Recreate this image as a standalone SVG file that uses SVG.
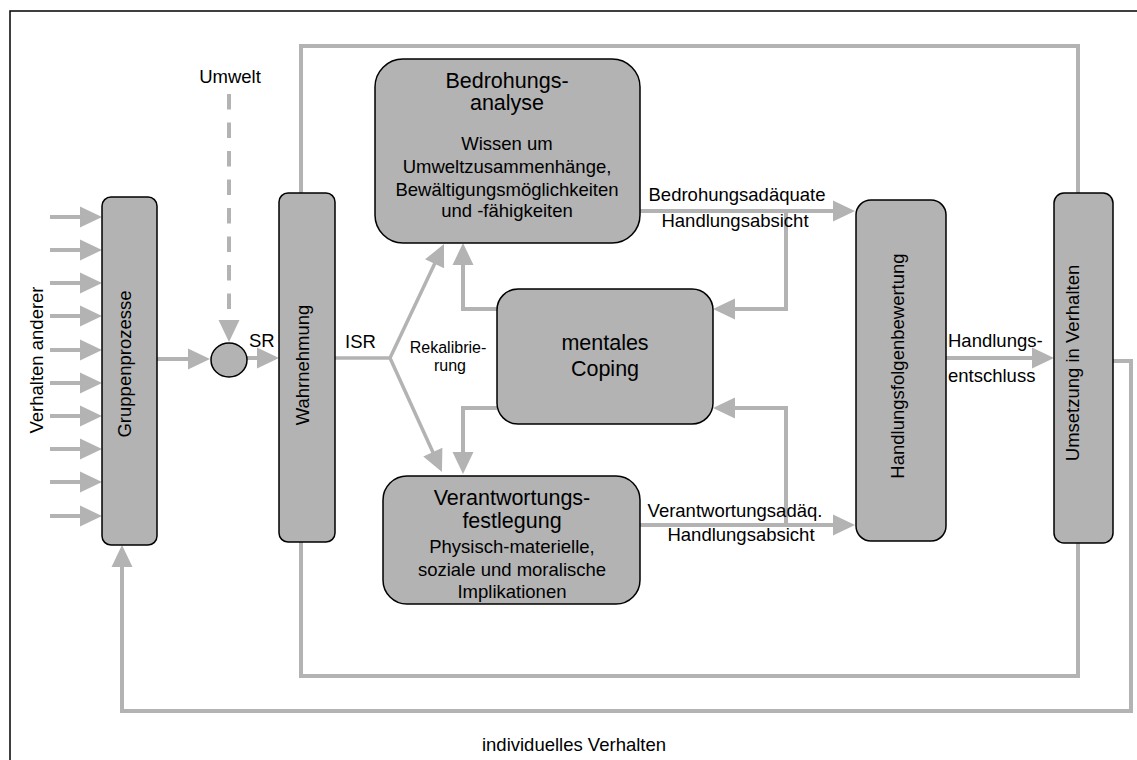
<svg xmlns="http://www.w3.org/2000/svg" width="1137" height="760" viewBox="0 0 1137 760">
<style>
  .box { fill: #b3b3b3; stroke: #000; stroke-width: 1.5; }
  .ln { fill: none; stroke: #b3b3b3; stroke-width: 4; }
  .ln3 { fill: none; stroke: #b3b3b3; stroke-width: 3.5; }
  .arr { marker-end: url(#ah); }
  .t { font-family: "Liberation Sans", Arial, sans-serif; font-size: 18.5px; fill: #000; }
  .c { text-anchor: middle; }
  .big { font-size: 21.5px; }
  .sm { font-size: 16px; }
</style>
<defs>
  <marker id="ah" markerUnits="userSpaceOnUse" markerWidth="22" markerHeight="21" refX="12" refY="10.5" orient="auto" overflow="visible">
    <path d="M0,0 L22,10.5 L0,21 Z" fill="#b3b3b3"/>
  </marker>
</defs>
<rect x="0" y="0" width="1137" height="760" fill="#fff"/>
<rect x="10" y="11" width="1150" height="780" fill="none" stroke="#000" stroke-width="1.5"/>

<g id="connectors">
  <!-- input arrows -->
  <line class="ln arr" x1="50" y1="217" x2="92" y2="217"/>
  <line class="ln arr" x1="50" y1="250" x2="92" y2="250"/>
  <line class="ln arr" x1="50" y1="283" x2="92" y2="283"/>
  <line class="ln arr" x1="50" y1="316" x2="92" y2="316"/>
  <line class="ln arr" x1="50" y1="350" x2="92" y2="350"/>
  <line class="ln arr" x1="50" y1="383" x2="92" y2="383"/>
  <line class="ln arr" x1="50" y1="416" x2="92" y2="416"/>
  <line class="ln arr" x1="50" y1="449" x2="92" y2="449"/>
  <line class="ln arr" x1="50" y1="482" x2="92" y2="482"/>
  <line class="ln arr" x1="50" y1="516" x2="92" y2="516"/>
  <!-- Gruppenprozesse to circle -->
  <line class="ln arr" x1="157" y1="359" x2="200" y2="359"/>
  <!-- circle to Wahrnehmung -->
  <line class="ln arr" x1="247" y1="358" x2="269" y2="358"/>
  <!-- Umwelt dashed -->
  <line class="ln arr" x1="229" y1="94" x2="229" y2="332" stroke-dasharray="15.5 13"/>
  <!-- top loop -->
  <polyline class="ln" points="301,193 301,46 1078,46 1078,193"/>
  <!-- ISR -->
  <polyline class="ln3" points="335,358 390,358"/>
  <line class="ln3 arr" x1="390" y1="358" x2="439.7" y2="253"/>
  <line class="ln3 arr" x1="390" y1="358" x2="437.8" y2="463"/>
  <!-- coping to Bedrohung / Verantwortung -->
  <polyline class="ln arr" points="497,309 463,309 463,253"/>
  <polyline class="ln arr" points="497,408 463,408 463,464"/>
  <!-- Bedrohungsadaequate -->
  <line class="ln arr" x1="640" y1="211" x2="845" y2="211"/>
  <polyline class="ln arr" points="786,211 786,309 723,309"/>
  <!-- Verantwortungsadaeq -->
  <line class="ln arr" x1="640" y1="525" x2="845" y2="525"/>
  <polyline class="ln arr" points="786,525 786,408 723,408"/>
  <!-- Handlungsentschluss -->
  <line class="ln arr" x1="946" y1="358" x2="1044" y2="358"/>
  <!-- outer loop individuelles Verhalten -->
  <polyline class="ln arr" points="1113,361 1131,361 1131,711 122,711 122,555"/>
  <!-- inner loop -->
  <polyline class="ln" points="1078,543 1078,676 301,676 301,542"/>
</g>

<g id="labels">
  <text class="t c" x="230" y="83">Umwelt</text>
  <text class="t" x="249" y="347">SR</text>
  <text class="t" x="345" y="348">ISR</text>
  <text class="t c sm" x="448" y="353">Rekalibrie-</text>
  <text class="t c sm" x="450" y="371">rung</text>
  <text class="t c" x="737" y="201">Bedrohungsadäquate</text>
  <text class="t c" x="735" y="227">Handlungsabsicht</text>
  <text class="t c" x="735" y="517">Verantwortungsadäq.</text>
  <text class="t c" x="741" y="541">Handlungsabsicht</text>
  <text class="t" x="948" y="347">Handlungs-</text>
  <text class="t" x="948" y="382">entschluss</text>
  <text class="t c" x="574" y="751">individuelles Verhalten</text>
  <text class="t c" transform="translate(43,360) rotate(-90)">Verhalten anderer</text>
</g>

<g id="gruppenprozesse">
  <rect class="box" x="102" y="197" width="55" height="348" rx="9"/>
  <text class="t c" transform="translate(131,364) rotate(-90)">Gruppenprozesse</text>
</g>

<g id="vergleich">
  <ellipse class="box" cx="229" cy="360" rx="18" ry="17"/>
</g>

<g id="wahrnehmung">
  <rect class="box" x="279" y="193" width="56" height="349" rx="9"/>
  <text class="t c" transform="translate(309,365) rotate(-90)">Wahrnehmung</text>
</g>

<g id="bedrohungsanalyse">
  <rect class="box" x="375" y="59" width="265" height="184" rx="28"/>
  <text class="t c big" x="507" y="88">Bedrohungs-</text>
  <text class="t c big" x="507" y="110">analyse</text>
  <text class="t c" x="507" y="150">Wissen um</text>
  <text class="t c" x="507" y="173">Umweltzusammenhänge,</text>
  <text class="t c" x="507" y="196">Bewältigungsmöglichkeiten</text>
  <text class="t c" x="507" y="217">und -fähigkeiten</text>
</g>

<g id="coping">
  <rect class="box" x="497" y="289" width="216" height="135" rx="21"/>
  <text class="t c big" x="605" y="350">mentales</text>
  <text class="t c big" x="605" y="376">Coping</text>
</g>

<g id="verantwortung">
  <rect class="box" x="383" y="476" width="257" height="128" rx="24"/>
  <text class="t c big" x="512" y="505">Verantwortungs-</text>
  <text class="t c big" x="512" y="528">festlegung</text>
  <text class="t c" x="512" y="553">Physisch-materielle,</text>
  <text class="t c" x="512" y="576">soziale und moralische</text>
  <text class="t c" x="512" y="598">Implikationen</text>
</g>

<g id="handlungsfolgenbewertung">
  <rect class="box" x="856" y="200" width="90" height="341" rx="15"/>
  <text class="t c" transform="translate(904,366) rotate(-90)">Handlungsfolgenbewertung</text>
</g>

<g id="umsetzung">
  <rect class="box" x="1054" y="193" width="59" height="350" rx="10"/>
  <text class="t c" transform="translate(1079,363) rotate(-90)">Umsetzung in Verhalten</text>
</g>
</svg>
